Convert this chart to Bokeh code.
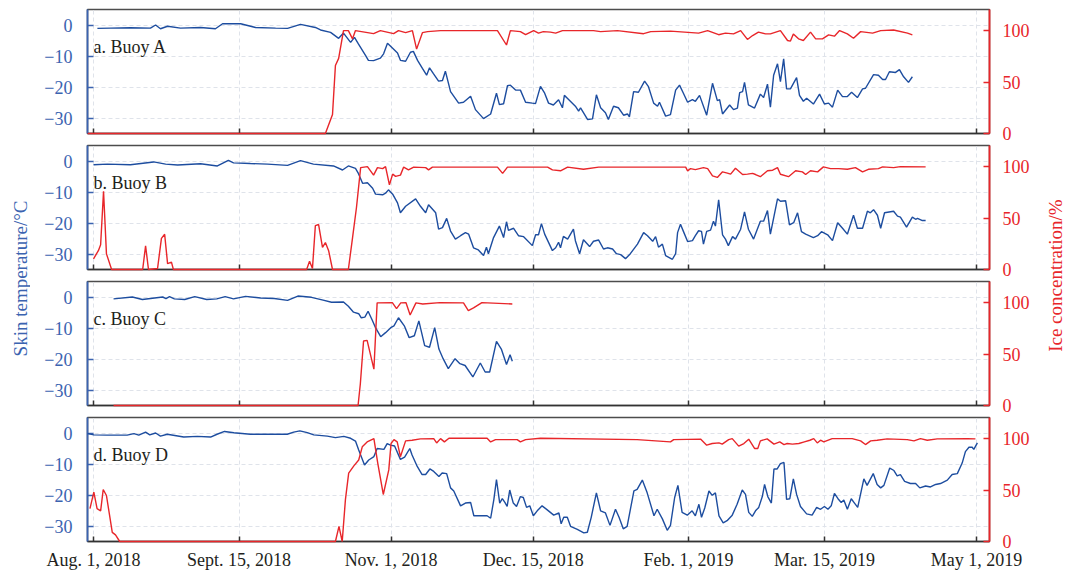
import numpy as np
import pandas as pd
from bokeh.plotting import figure
from bokeh.models import Range1d, LinearAxis, FixedTicker, Label, ColumnDataSource
from bokeh.layouts import row, column
from bokeh.embed import file_html
from bokeh.resources import INLINE
from bokeh.core.properties import value

# ---------------- data (day offset from Aug 1, 2018 ; value) ----------------
start_date = "2018-08-01"

tick_dates = ["2018-08-01", "2018-09-15", "2018-11-01", "2018-12-15",
              "2019-02-01", "2019-03-15", "2019-05-01"]
tick_labels = ["Aug. 1, 2018", "Sept. 15, 2018", "Nov. 1, 2018", "Dec. 15, 2018",
               "Feb. 1, 2019", "Mar. 15, 2019", "May 1, 2019"]
temp_ticks = [-30, -20, -10, 0]
ice_ticks = [0, 50, 100]
panel_names = ["a. Buoy A", "b. Buoy B", "c. Buoy C", "d. Buoy D"]

a_temp = [(1.2,-1.1),(5.3,-1.0),(11.4,-0.9),(17.6,-1.0),(19.2,0.0),(20.7,-1.2),(22.9,-0.4),(26.9,-1.0),(33.1,-0.8),(37.7,-1.2),(39.9,0.4),(45.5,0.4),(50.1,-0.8),(56.3,-1.0),(60.0,-1.1),(64.0,0.2),(68.6,-0.8),(70.2,-1.6),(73.3,-2.4),(75.8,-4.3),(77.3,-2.6),(79.5,-5.6),(80.7,-4.0),(81.9,-6.1),(84.1,-9.8),(85.0,-11.4),(86.6,-11.5),(88.7,-10.7),(89.7,-9.3),(90.9,-5.9),(92.5,-7.5),(94.0,-9.0),(94.9,-11.4),(96.5,-11.7),(98.0,-8.8),(98.9,-8.5),(100.2,-11.4),(101.7,-14.0),(103.0,-16.2),(103.9,-13.8),(105.1,-15.7),(106.7,-18.1),(107.9,-17.9),(108.8,-14.9),(110.4,-21.5),(112.9,-25.2),(114.4,-24.9),(116.6,-23.0),(118.1,-27.3),(120.6,-30.2),(122.8,-28.7),(124.6,-22.0),(125.5,-25.7),(126.8,-25.4),(128.0,-19.6),(128.9,-19.4),(130.5,-21.0),(132.0,-21.0),(133.6,-24.9),(135.7,-25.2),(136.7,-25.3),(138.2,-19.8),(139.5,-22.0),(140.7,-25.2),(142.2,-25.8),(143.8,-24.1),(145.0,-26.7),(145.6,-22.7),(146.9,-24.0),(149.0,-26.2),(150.0,-27.8),(150.6,-26.7),(152.8,-30.5),(154.3,-30.3),(155.5,-22.5),(156.8,-26.7),(158.3,-28.3),(159.2,-30.5),(160.8,-26.2),(162.3,-26.7),(163.9,-29.1),(165.1,-28.7),(165.7,-29.6),(167.0,-21.5),(168.5,-21.7),(170.4,-18.1),(171.6,-19.9),(173.2,-25.2),(174.4,-26.2),(175.0,-24.9),(176.9,-29.4),(178.4,-28.9),(180.0,-21.0),(181.2,-19.4),(182.4,-22.0),(183.7,-24.9),(185.2,-24.1),(186.1,-24.6),(187.4,-22.7),(189.6,-29.1),(191.4,-18.8),(192.9,-24.4),(193.6,-24.1),(194.5,-28.7),(196.7,-25.8),(197.9,-27.3),(199.1,-26.8),(199.8,-21.8),(200.7,-21.5),(201.3,-18.5),(202.5,-25.8),(204.4,-26.8),(206.2,-22.3),(207.2,-23.4),(208.4,-19.1),(209.3,-26.5),(210.3,-16.2),(211.5,-12.5),(212.4,-18.3),(213.4,-10.9),(214.3,-20.6),(215.5,-20.6),(217.4,-17.0),(218.3,-22.7),(219.5,-24.6),(220.5,-23.6),(222.6,-25.5),(224.5,-22.3),(226.0,-25.5),(227.3,-25.2),(228.5,-26.5),(230.1,-21.0),(231.6,-23.1),(233.1,-23.1),(234.4,-21.7),(236.2,-23.4),(237.8,-20.6),(238.7,-20.4),(241.2,-16.0),(242.7,-16.2),(244.0,-17.6),(244.9,-17.6),(246.1,-15.1),(248.0,-15.3),(249.2,-14.4),(250.5,-16.7),(252.0,-18.5),(253.2,-16.7)]

a_ice = [(-1.8,0),(71.7,0),(73.9,18.5),(74.8,66),(75.8,73),(77.3,100),(78.8,100),(80.1,92),(81.0,100),(86.6,97),(88.7,100),(92.8,97),(94.3,100),(96.5,98),(98.6,100),(99.9,82),(101.7,98),(103.3,99),(107.3,100),(124.9,100),(127.7,86),(128.9,100),(132.0,99),(133.6,96),(136.1,100),(137.6,97.5),(139.1,99),(141.3,98.5),(142.9,97.5),(145.0,100),(154.6,100),(156.8,99),(162.0,100),(170.1,97),(172.3,99),(178.4,99.5),(187.1,97.5),(189.9,100),(193.3,96),(195.4,97.5),(197.9,96.8),(200.1,100),(202.2,91.4),(203.8,95.2),(205.6,98.5),(207.8,96.8),(209.3,96.8),(212.4,100),(214.6,90.4),(215.5,89.8),(216.4,96.8),(218.0,92),(219.5,90.4),(221.7,98.5),(223.3,92),(225.4,92),(227.3,95.9),(229.1,94.6),(230.7,100),(233.1,96.8),(235.0,92.6),(237.2,99),(240.9,97.5),(243.4,100),(247.4,100.6),(251.7,97.5),(253.2,95.9)]

b_temp = [(0.0,-1.2),(4.3,-1.0),(11.4,-1.2),(18.6,-0.3),(22.3,-1.0),(26.0,-1.3),(33.1,-0.9),(38.3,-1.6),(41.7,0.2),(43.3,-0.6),(48.5,-0.8),(53.8,-1.0),(60.0,-1.4),(64.0,0.1),(68.0,-1.0),(74.2,-1.6),(77.0,-2.9),(78.8,-1.6),(81.0,-2.4),(81.9,-4.0),(83.2,-7.2),(84.7,-7.0),(86.3,-8.8),(87.2,-10.7),(89.4,-10.9),(90.3,-10.4),(91.2,-9.3),(92.5,-10.7),(94.0,-13.5),(94.9,-16.7),(96.5,-14.6),(99.6,-12.2),(101.1,-14.6),(102.7,-16.7),(103.6,-14.1),(105.8,-16.7),(106.7,-22.0),(107.9,-21.5),(109.2,-18.5),(110.4,-22.6),(111.9,-25.2),(113.5,-24.1),(115.0,-23.1),(116.0,-23.6),(117.5,-28.0),(119.0,-28.7),(120.6,-30.5),(121.5,-27.8),(122.1,-29.9),(123.7,-24.7),(125.5,-21.0),(126.8,-24.7),(127.7,-19.6),(128.3,-22.4),(129.9,-21.7),(131.4,-24.1),(133.0,-24.4),(135.7,-27.3),(136.7,-23.8),(137.6,-23.8),(138.5,-20.2),(139.5,-23.6),(141.9,-28.9),(142.9,-28.0),(143.8,-26.2),(144.4,-28.0),(145.3,-24.3),(146.6,-25.2),(148.4,-22.0),(149.0,-25.7),(150.3,-29.9),(151.5,-25.4),(153.4,-27.6),(154.6,-25.9),(156.2,-25.5),(157.7,-28.4),(158.9,-28.0),(160.5,-28.4),(161.7,-29.9),(163.0,-30.2),(164.5,-31.5),(166.0,-29.9),(168.2,-26.8),(170.1,-23.1),(171.3,-24.1),(172.9,-25.9),(173.8,-24.4),(174.7,-27.8),(175.9,-26.8),(176.9,-30.5),(179.0,-31.7),(180.0,-29.9),(180.6,-23.1),(181.5,-20.4),(182.4,-22.7),(183.7,-26.0),(185.2,-25.7),(186.1,-24.1),(187.1,-22.5),(188.0,-22.7),(188.6,-26.8),(189.6,-22.7),(190.8,-22.3),(191.7,-19.4),(192.3,-21.0),(193.3,-12.5),(194.5,-23.8),(195.4,-25.2),(196.3,-27.3),(197.6,-24.4),(198.5,-25.2),(200.1,-22.0),(201.3,-16.4),(202.5,-22.0),(204.1,-25.2),(206.2,-19.4),(207.2,-19.4),(208.4,-16.0),(209.3,-23.6),(211.5,-12.2),(212.4,-13.0),(214.0,-12.8),(215.2,-20.6),(216.5,-19.9),(217.7,-16.7),(218.9,-22.8),(220.2,-23.6),(222.6,-24.7),(223.9,-24.1),(225.1,-22.8),(227.0,-23.8),(228.5,-25.7),(230.1,-19.9),(231.6,-21.7),(233.1,-23.6),(235.0,-17.5),(236.2,-21.7),(237.8,-21.7),(239.3,-16.2),(240.2,-16.7),(241.2,-15.7),(242.4,-17.5),(243.4,-21.7),(244.6,-16.7),(247.4,-16.2),(248.6,-17.8),(249.5,-18.1),(251.4,-21.3),(253.2,-18.1),(254.2,-18.8),(254.8,-18.5),(256.3,-19.2),(257.3,-19.2)]

b_ice = [(0.0,10.4),(1.5,18.3),(2.2,24),(3.1,76),(4.0,15.2),(5.6,0),(15.2,0),(16.1,23),(17.0,0),(19.8,1),(21.0,30.3),(22.0,34.2),(22.9,5.7),(24.1,7.2),(24.7,0),(65.9,0),(66.8,8),(67.7,1),(68.6,42.7),(69.6,43.7),(70.8,21.5),(71.7,26.2),(72.7,18.3),(73.9,0),(78.8,0),(80.1,31),(81.3,60),(82.6,99),(84.7,100),(86.6,91.7),(87.8,99),(89.4,98),(90.3,100),(91.5,82.3),(92.5,92.7),(93.4,90.5),(94.9,91.7),(95.9,99.5),(97.4,96.8),(99.0,99.5),(102.7,99),(103.6,96.8),(104.8,99.5),(124.9,99.5),(126.5,93.4),(128.0,99.5),(140.4,99.5),(141.9,96.8),(144.4,95.9),(146.6,99.5),(151.5,97.4),(156.2,99.5),(183.1,99.5),(183.7,95.9),(184.6,98),(186.1,97),(188.6,99),(189.9,98),(191.4,91),(192.9,89.5),(194.5,94.9),(196.0,93.7),(197.0,92.7),(198.5,98.4),(200.7,92.3),(202.2,92.7),(203.8,93.4),(204.7,92.3),(206.2,90.2),(208.4,95.9),(210.0,96.5),(211.5,99),(212.4,92.6),(214.9,90.2),(217.1,95.9),(219.2,94.9),(220.2,92.3),(221.7,95.9),(223.9,94.9),(225.7,99.7),(227.9,98),(230.4,98),(233.1,97.4),(235.6,99),(237.8,94.9),(239.6,97.4),(242.7,98),(244.0,99.7),(247.4,99),(249.5,100),(257.3,99.7)]

c_temp = [(6.2,-0.6),(12.0,0.0),(15.1,-0.8),(21.4,0.0),(22.4,-0.5),(23.5,0.1),(25.0,-0.6),(28.2,-0.8),(31.3,0.1),(35.0,-0.8),(38.1,-0.6),(40.7,0.1),(43.3,-0.6),(47.0,0.2),(51.7,-0.3),(55.9,-0.5),(60.0,-1.1),(63.2,0.3),(67.4,-0.1),(71.0,-1.0),(73.6,-1.7),(77.3,-1.6),(78.8,-3.0),(80.4,-4.9),(82.0,-5.4),(82.8,-6.7),(83.9,-6.5),(84.9,-4.6),(86.2,-7.5),(87.2,-9.9),(88.8,-12.8),(90.3,-11.5),(91.9,-9.9),(92.9,-9.3),(94.3,-6.7),(96.1,-9.3),(97.6,-13.1),(99.2,-12.5),(100.6,-7.7),(102.4,-15.7),(103.9,-16.2),(105.5,-9.9),(106.8,-16.8),(108.1,-19.9),(109.7,-23.1),(111.8,-19.9),(113.3,-21.5),(114.9,-22.1),(117.3,-25.8),(119.6,-21.3),(121.1,-24.2),(122.5,-24.2),(124.6,-14.3),(126.1,-16.8),(127.7,-21.8),(128.8,-18.6),(129.5,-20.7)]

c_ice = [(6.2,0),(81.8,0),(82.5,20.9),(83.5,62.7),(84.6,63.3),(86.7,35.3),(87.7,99.7),(92.4,100),(93.7,94.2),(95.0,99.7),(96.6,100),(97.9,88),(99.7,99.7),(101.8,98.7),(107.1,100),(114.4,99.7),(115.9,92.3),(117.5,94.8),(120.1,100),(129.5,98.7)]

d_temp = [(-1.8,-0.2),(0.1,-0.6),(4.2,-0.7),(10.4,-0.7),(12.5,-0.2),(14.0,-0.7),(16.1,0.3),(17.4,-0.6),(19.2,0.0),(20.7,-1.0),(22.8,-0.4),(27.9,-1.3),(32.1,-1.1),(36.2,-1.3),(38.2,-0.4),(40.5,0.5),(43.4,0.1),(48.5,-0.4),(51.6,-0.4),(55.8,-0.4),(59.9,-0.4),(61.9,0.3),(63.8,0.7),(66.1,0.1),(68.1,-0.6),(72.3,-1.0),(74.8,-1.5),(77.4,-1.1),(79.5,-1.7),(81.0,-2.6),(82.0,-5.5),(83.8,-10.3),(85.1,-8.7),(86.7,-7.6),(87.7,-5.0),(89.8,-5.3),(90.8,-3.4),(91.8,-3.9),(93.1,-4.2),(94.9,-8.5),(96.2,-7.8),(97.8,-5.0),(98.5,-7.1),(100.1,-10.8),(101.6,-13.4),(102.7,-13.4),(104.0,-11.6),(105.2,-12.4),(106.8,-14.0),(107.8,-12.9),(109.2,-13.1),(110.4,-17.7),(111.4,-18.7),(113.5,-23.5),(115.0,-22.6),(116.6,-22.4),(117.6,-26.7),(119.7,-26.7),(121.7,-26.7),(122.8,-27.5),(123.8,-21.4),(124.6,-15.0),(125.6,-22.6),(126.4,-21.2),(127.2,-22.4),(127.9,-23.7),(128.7,-18.4),(129.8,-22.6),(130.8,-23.7),(132.0,-20.5),(132.9,-20.8),(133.9,-24.0),(134.9,-23.5),(136.0,-26.7),(137.2,-25.1),(138.7,-23.5),(140.3,-24.8),(142.3,-26.5),(143.9,-25.8),(144.6,-29.3),(145.4,-27.2),(146.5,-27.2),(147.5,-30.1),(149.6,-31.1),(151.6,-32.2),(152.7,-32.0),(153.9,-27.2),(155.5,-19.3),(156.8,-25.1),(158.3,-25.8),(159.7,-29.8),(161.4,-24.6),(162.5,-27.2),(163.8,-30.9),(165.0,-30.1),(167.1,-18.7),(168.1,-18.2),(169.7,-15.2),(171.2,-19.3),(173.3,-26.7),(174.3,-24.6),(175.9,-27.7),(177.4,-31.4),(178.4,-29.8),(179.7,-20.8),(180.7,-16.9),(182.0,-25.6),(183.6,-26.5),(185.1,-25.1),(186.1,-26.7),(187.2,-23.0),(188.0,-27.2),(189.0,-24.2),(190.3,-18.7),(191.3,-20.1),(192.3,-19.3),(193.4,-26.7),(194.7,-29.0),(195.9,-28.3),(197.5,-26.5),(199.0,-23.0),(200.6,-18.4),(201.6,-19.8),(202.6,-25.6),(203.7,-26.9),(204.7,-25.1),(205.7,-24.0),(206.8,-20.5),(207.5,-16.6),(208.5,-20.5),(209.6,-22.6),(210.4,-11.6),(211.4,-11.6),(212.4,-9.9),(213.5,-9.5),(214.3,-21.4),(215.3,-21.2),(216.4,-14.8),(217.4,-19.8),(218.6,-23.7),(220.5,-26.1),(222.2,-26.5),(223.6,-24.0),(224.8,-24.6),(226.0,-23.7),(227.1,-24.6),(228.1,-23.5),(229.1,-19.5),(230.2,-21.2),(231.2,-22.4),(232.0,-21.6),(233.1,-24.6),(234.3,-21.2),(235.3,-22.6),(236.3,-24.0),(238.2,-14.8),(239.2,-16.9),(241.1,-13.1),(242.3,-16.6),(243.4,-17.7),(244.4,-16.9),(246.2,-11.3),(247.5,-12.1),(248.5,-13.8),(249.5,-13.4),(250.8,-15.6),(252.6,-16.3),(254.2,-16.3),(255.5,-17.7),(257.3,-17.1),(258.8,-17.4),(260.4,-16.6),(261.9,-16.3),(264.0,-15.2),(265.5,-13.4),(267.1,-13.1),(268.6,-9.7),(269.6,-6.0),(270.7,-4.6),(271.7,-4.6),(272.2,-5.3),(273.3,-3.2)]

d_ice = [(-1.1,32),(0.1,48),(1.1,32),(2.2,29.7),(3.0,50.5),(4.0,44.7),(5.8,8.9),(6.8,6.4),(8.1,0),(74.8,0),(75.9,14.7),(76.9,0),(77.9,40.9),(78.9,66.5),(80.5,73.5),(82.0,79.2),(83.1,92),(84.6,96.8),(86.7,100),(87.9,76),(89.6,45.7),(91.3,69.6),(92.0,95.2),(92.9,99),(93.9,96.8),(94.9,82.4),(96.5,97.8),(98.5,98.4),(101.1,99.7),(105.2,100),(106.1,95.8),(107.3,100),(108.5,96.8),(109.9,100.3),(121.7,100.3),(122.8,96.8),(124.3,99),(131.0,99),(132.0,96.8),(133.6,99),(138.2,100.3),(168.1,99),(178.4,96.8),(179.4,99),(187.7,99.5),(189.6,93.6),(191.3,95.2),(193.4,95.8),(194.4,94.6),(196.4,99),(197.5,100),(199.5,92.7),(201.1,95.2),(202.6,99.4),(204.4,90.4),(205.4,90.4),(206.2,97.8),(208.3,99.7),(210.4,94.6),(212.2,96.8),(213.5,94.2),(214.5,95.2),(216.1,94.6),(218.1,95.2),(219.8,96.8),(221.5,98.4),(222.7,100),(223.8,95.8),(224.8,98.4),(225.8,96.8),(228.4,100),(234.6,100),(237.2,97.8),(238.7,94.2),(240.3,97.8),(242.3,98.4),(245.4,99.7),(251.6,99),(253.7,97.8),(255.7,100),(257.8,98.4),(260.9,99.7),(270.2,100),(272.7,99.7)]

# ---------------- helpers ----------------
BASE = pd.Timestamp(start_date)
MS_DAY = 86400000.0
base_ms = BASE.value / 1e6


def to_ms(d):
    return base_ms + d * MS_DAY


def src(pairs):
    return ColumnDataSource(dict(x=[to_ms(p[0]) for p in pairs], y=[p[1] for p in pairs]))


tick_ms = [int(pd.Timestamp(t).value // 10**6) for t in tick_dates]

SERIF = "Liberation Serif"
BLUE_AX = "#3b63b0"
BLUE_LN = "#1d4d9f"
RED = "#e8262a"
DARK = "#231f20"

x_range = Range1d(to_ms(-1.86), to_ms(277.05))

PW = 1066 - 30 - 24


def make_panel(temp, ice, name, height, top, bottom, show_x):
    p = figure(width=PW, height=height, x_axis_type="datetime", x_range=x_range,
               y_range=Range1d(-35, 5), output_backend="svg", toolbar_location=None,
               min_border_left=57, min_border_right=53, min_border_top=top,
               min_border_bottom=bottom, background_fill_color="white",
               border_fill_color="white")
    p.outline_line_color = "#4d4d4d"
    p.outline_line_width = 1.5
    p.extra_y_ranges = {"ice": Range1d(0, 120.5)}

    # grids
    for g in (p.xgrid, p.ygrid):
        g.grid_line_color = "#dfe3ea"
        g.grid_line_dash = "4 3"
        g.grid_line_width = 1

    # x axis
    xa = p.xaxis[0]
    xa.ticker = FixedTicker(ticks=tick_ms)
    xa.axis_line_color = "#333333"
    xa.axis_line_width = 1.5
    xa.major_tick_line_color = "#333333"
    xa.major_tick_line_width = 1.5
    xa.major_tick_in = 5
    xa.major_tick_out = 0
    xa.minor_tick_line_color = None
    if show_x:
        xa.major_label_overrides = {t: l for t, l in zip(tick_ms, tick_labels)}
        xa.major_label_text_font = SERIF
        xa.major_label_text_font_size = "18px"
        xa.major_label_text_color = DARK
        xa.major_label_standoff = 8
    else:
        xa.major_label_overrides = {t: "" for t in tick_ms}
        xa.major_label_text_font_size = "0px"
        xa.major_label_standoff = 0

    # left axis
    ya = p.yaxis[0]
    ya.ticker = FixedTicker(ticks=temp_ticks)
    ya.major_label_overrides = {t: (str(t).replace("-", "\u2212")) for t in temp_ticks}
    ya.axis_line_color = BLUE_AX
    ya.axis_line_width = 1.8
    ya.major_tick_line_color = BLUE_AX
    ya.major_tick_line_width = 1.5
    ya.major_tick_in = 6
    ya.major_tick_out = 0
    ya.minor_tick_line_color = None
    ya.major_label_text_font = SERIF
    ya.major_label_text_font_size = "18px"
    ya.major_label_text_color = BLUE_AX
    ya.major_label_standoff = 15

    # right axis
    ra = LinearAxis(y_range_name="ice", ticker=FixedTicker(ticks=ice_ticks))
    ra.axis_line_color = RED
    ra.axis_line_width = 1.8
    ra.major_tick_line_color = RED
    ra.major_tick_line_width = 1.5
    ra.major_tick_in = 6
    ra.major_tick_out = 0
    ra.minor_tick_line_color = None
    ra.major_label_text_font = SERIF
    ra.major_label_text_font_size = "18px"
    ra.major_label_text_color = RED
    ra.major_label_standoff = 13
    p.add_layout(ra, "right")

    p.line("x", "y", source=src(temp), line_color=BLUE_LN, line_width=1.4, level="overlay")
    p.line("x", "y", source=src(ice), y_range_name="ice", line_color=RED, line_width=1.4,
           level="overlay")

    p.add_layout(Label(x=to_ms(0.0), y=-7.2, text=name, text_font=SERIF,
                       text_font_size="18px", text_color=DARK,
                       text_align="left", text_baseline="alphabetic"))
    return p


pA = make_panel(a_temp, a_ice, panel_names[0], 144, 9, 11, False)
pB = make_panel(b_temp, b_ice, panel_names[1], 136, 1, 11, False)
pC = make_panel(c_temp, c_ice, panel_names[2], 136, 1, 11, False)
pD = make_panel(d_temp, d_ice, panel_names[3], 156, 1, 31, True)


def side(width, xfrac, yfrac, text, color):
    f = figure(width=width, height=572, x_range=Range1d(0, 1), y_range=Range1d(0, 1),
               output_backend="svg", toolbar_location=None, x_axis_type=None,
               y_axis_type=None, min_border=0, min_border_left=0, min_border_right=0,
               min_border_top=0, min_border_bottom=0)
    f.outline_line_color = None
    f.grid.visible = False
    f.text(x=[xfrac], y=[yfrac], text=[text], angle=np.pi / 2, text_align="center",
           text_baseline="middle", text_font=value(SERIF), text_font_size="19px",
           text_color=color)
    return f


left = side(30, 0.667, 0.514, "Skin temperature/\u00b0C", BLUE_AX)
right = side(24, 0.54, 0.519, "Ice concentration/%", RED)

layout = row(left, column(pA, pB, pC, pD), right)

open("out.html", "w").write(file_html(layout, INLINE))
